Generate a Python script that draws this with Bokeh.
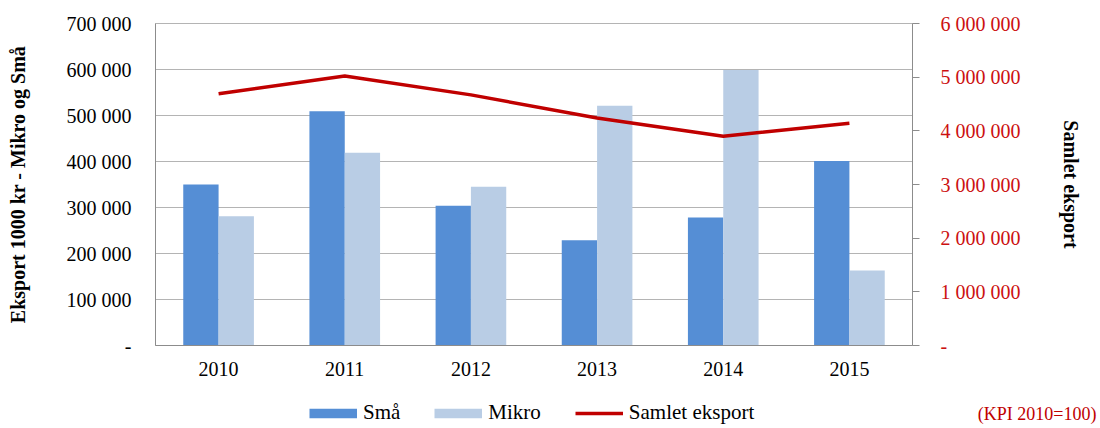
from bokeh.plotting import figure
from bokeh.models import (Range1d, LinearAxis, FixedTicker, Legend, LegendItem, Label,
                          ColumnDataSource, FactorRange)
from bokeh.layouts import column
from bokeh.transform import dodge
from bokeh.embed import file_html
from bokeh.resources import INLINE

years = ["2010", "2011", "2012", "2013", "2014", "2015"]
sma = [350000, 509000, 304000, 229000, 278000, 401000]
mikro = [281000, 419000, 345000, 521000, 599000, 163000]
samlet = [4690000, 5020000, 4670000, 4240000, 3900000, 4140000]
left_ticks = [0, 100000, 200000, 300000, 400000, 500000, 600000, 700000]
right_ticks = [0, 1000000, 2000000, 3000000, 4000000, 5000000, 6000000]
series_names = ["Små", "Mikro", "Samlet eksport"]
note_text = "(KPI 2010=100)"

FONT = "Liberation Serif"
GRID = "#B4B4B4"
AXIS = "#8C8C8C"
C_SMA = "#558ED5"
C_MIKRO = "#B9CDE5"
C_LINE = "#C00000"


def fmt(v):
    return "-" if v == 0 else f"{v:,}".replace(",", " ")


p = figure(x_range=FactorRange(*years), y_range=Range1d(0, 700000),
           width=1100, height=390, output_backend="svg", toolbar_location=None,
           min_border_left=155, min_border_right=188, min_border_top=23, min_border_bottom=45)
p.extra_y_ranges = {"right": Range1d(0, 6000000)}
p.outline_line_color = GRID
p.background_fill_color = "white"
p.border_fill_color = "white"

src = ColumnDataSource(dict(year=years, sma=sma, mikro=mikro, samlet=samlet))
r1 = p.vbar(x=dodge("year", -0.14, range=p.x_range), top="sma", width=0.28, source=src,
            fill_color=C_SMA, line_color=None)
r2 = p.vbar(x=dodge("year", 0.14, range=p.x_range), top="mikro", width=0.28, source=src,
            fill_color=C_MIKRO, line_color=None)
r3 = p.line(x="year", y="samlet", y_range_name="right", source=src,
            line_color=C_LINE, line_width=3.5, line_join="round")

# grid
p.xgrid.visible = False
p.ygrid.ticker = FixedTicker(ticks=left_ticks)
p.ygrid.grid_line_color = GRID
p.ygrid.grid_line_width = 1

# left axis
ya = p.yaxis[0]
ya.ticker = FixedTicker(ticks=left_ticks)
ya.major_label_overrides = {t: fmt(t) for t in left_ticks}
ya.axis_label = "Eksport 1000 kr - Mikro og Små"
ya.axis_label_text_font = FONT
ya.axis_label_text_font_style = "bold"
ya.axis_label_text_font_size = "20px"
ya.axis_label_text_color = "black"
ya.axis_label_standoff = 35
ya.major_label_text_font = FONT
ya.major_label_text_font_size = "20px"
ya.major_label_text_color = "black"
ya.major_label_standoff = 24
ya.major_tick_out = 0
ya.major_tick_in = 0
ya.minor_tick_line_color = None
ya.axis_line_color = AXIS

# right axis
ra = LinearAxis(y_range_name="right", ticker=FixedTicker(ticks=right_ticks),
                major_label_overrides={t: fmt(t) for t in right_ticks},
                axis_label="Samlet eksport")
ra.axis_label_text_font = FONT
ra.axis_label_text_font_style = "bold"
ra.axis_label_text_font_size = "20px"
ra.axis_label_text_color = "black"
ra.axis_label_standoff = 36
ra.major_label_text_font = FONT
ra.major_label_text_font_size = "20px"
ra.major_label_text_color = "#CC1010"
ra.major_label_standoff = 21
ra.major_tick_out = 7
ra.major_tick_in = 0
ra.major_tick_line_color = AXIS
ra.minor_tick_line_color = None
ra.axis_line_color = AXIS
p.add_layout(ra, "right")

# x axis
xa = p.xaxis[0]
xa.major_label_text_font = FONT
xa.major_label_text_font_size = "20px"
xa.major_label_text_color = "black"
xa.major_label_standoff = 16
xa.major_tick_line_color = None
xa.major_tick_out = 0
xa.axis_line_color = AXIS

# legend strip (separate figure so nothing is clipped)
p2 = figure(width=1100, height=38, x_range=Range1d(0, 1), y_range=Range1d(0, 1),
            output_backend="svg", toolbar_location=None,
            x_axis_location=None, y_axis_location=None, min_border=0)
p2.outline_line_color = None
p2.xgrid.visible = False
p2.ygrid.visible = False
p2.border_fill_color = "white"

# hidden proxy renderers (non-empty so that legend swatches are drawn)
pr1 = p2.line(x=sma, y=mikro, line_color=C_SMA, line_width=9.5, line_cap="butt", visible=False)
pr2 = p2.line(x=sma, y=mikro, line_color=C_MIKRO, line_width=9.5, line_cap="butt", visible=False)
pr3 = p2.line(x=sma, y=samlet, line_color=C_LINE, line_width=3.5, line_cap="butt", visible=False)

legend = Legend(items=[LegendItem(label=series_names[0], renderers=[pr1]),
                       LegendItem(label=series_names[1], renderers=[pr2]),
                       LegendItem(label=series_names[2], renderers=[pr3])],
                orientation="horizontal", location=(154, 3),
                glyph_width=48, glyph_height=24, label_standoff=6, spacing=34,
                padding=0, margin=0, border_line_color=None, background_fill_alpha=0,
                label_text_font=FONT, label_text_font_size="21px", label_text_color="black")
p2.add_layout(legend, "center")

kpi = Label(x=184, y=15, x_units="screen", y_units="screen", text=note_text,
            text_align="right", text_baseline="middle", text_font=FONT,
            text_font_size="18px", text_color=C_LINE)
p2.add_layout(kpi, "right")

layout = column(p, p2, spacing=0)
open("out.html", "w").write(file_html(layout, INLINE))
